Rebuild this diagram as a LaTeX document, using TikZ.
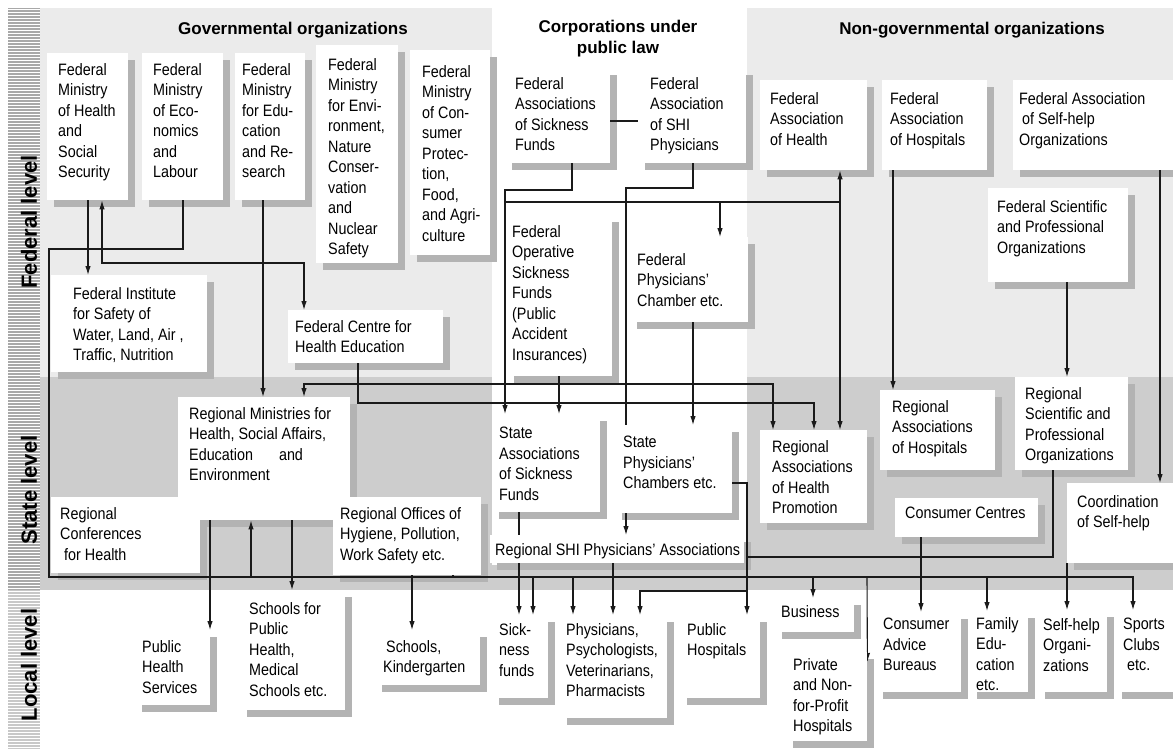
\documentclass[tikz,border=0pt]{standalone}
\usepackage{fontspec}
\setmainfont{Liberation Sans}[FakeStretch=0.87]
\newfontfamily\hdrfont{Liberation Sans}
\usetikzlibrary{arrows.meta}
\pgfdeclarelayer{bg}\pgfdeclarelayer{shadow}\pgfdeclarelayer{lines}
\pgfsetlayers{bg,shadow,lines,main}
\definecolor{shadowgray}{HTML}{B3B3B3}
\definecolor{fedgray}{HTML}{EBEBEB}
\definecolor{stategray}{HTML}{CDCDCD}
\definecolor{stripgray}{HTML}{A8A8A8}
\definecolor{stripgraylow}{HTML}{C8C8C8}
\definecolor{linecol}{HTML}{1A1A1A}
\tikzset{
 boxn/.style={fill=white, inner sep=0pt, anchor=north west, draw=none},
 txt/.style={anchor=north west, inner sep=0pt, align=left, font=\fontsize{16.5}{20.5}\selectfont},
 shd/.style={fill=shadowgray},
 hdr/.style={font=\hdrfont\bfseries\fontsize{17}{21}\selectfont, align=center, inner sep=0pt},
 lvl/.style={font=\hdrfont\bfseries\fontsize{22}{26}\selectfont, rotate=90, inner sep=0pt},
 ln/.style={line width=1.1pt, draw=linecol},
 arr/.style={ln, -{Latex[length=9pt,width=5.5pt]}},
 arr2/.style={ln, {Latex[length=9pt,width=5.5pt]}-{Latex[length=9pt,width=5.5pt]}},
}
% name, x1, y1, x2, y2, text left, text top, text
\newcommand\Bx[8]{%
  \begin{pgfonlayer}{shadow}\fill[shd] (#2+7,#3+7) rectangle (#4+7,#5+7);\end{pgfonlayer}
  \node[boxn, minimum width={#4-#2}, minimum height={#5-#3}] (#1) at (#2,#3) {};
  \node[txt] (#1t) at (#6,#7) {#8};
}
\begin{document}
\begin{tikzpicture}[x=1pt,y=-1pt]
\useasboundingbox (0,0) rectangle (1173,749);
\begin{pgfonlayer}{bg}
\fill[white] (0,0) rectangle (1173,749);
\fill[fedgray] (40,8) rectangle (492,377);
\fill[fedgray] (747,8) rectangle (1173,377);
\fill[stategray] (40,377) rectangle (1173,590);
\fill[white] (492,8) rectangle (747,565);
\fill[stripgray] (8,8) rectangle (40,590);
\fill[stripgraylow] (8,590) rectangle (40,749);
\foreach \i in {0,...,246} {\fill[white] (8,{9+3*\i}) rectangle (40,{10+3*\i});}
\end{pgfonlayer}

% level labels and headers
\node[lvl] (lf) at (29,222) {Federal level};
\node[lvl] (ls) at (29,490) {State level};
\node[lvl] (ll) at (29,665) {Local level};
\node[hdr, anchor=base] (hg) at (293,35) {Governmental organizations};
\node[hdr, anchor=north] (hc) at (618,20) {Corporations under\\public law};
\node[hdr, anchor=base] (hn) at (972,35) {Non-governmental organizations};

% federal level
\Bx{fmh}{47}{53}{128}{200}{58}{63}{Federal\\Ministry\\of Health\\and\\Social\\Security}
\Bx{fme}{142}{53}{223}{200}{153}{63}{Federal\\Ministry\\of Eco-\\nomics\\and\\Labour}
\Bx{fmedu}{235}{53}{305}{200}{242}{63}{Federal\\Ministry\\for Edu-\\cation\\and Re-\\search}
\Bx{fmenv}{316}{45}{398}{263}{328}{58}{Federal\\Ministry\\for Envi-\\ronment,\\Nature\\Conser-\\vation\\and\\Nuclear\\Safety}
\Bx{fmcons}{410}{50}{490}{255}{422}{65}{Federal\\Ministry\\of Con-\\sumer\\Protec-\\tion,\\Food,\\and Agri-\\culture}
\Bx{fas}{505}{68}{610}{163}{515}{77}{Federal\\Associations\\of Sickness\\Funds}
\Bx{fshi}{638}{68}{746}{163}{650}{77}{Federal\\Association\\of SHI\\Physicians}
\Bx{fah}{760}{80}{867}{170}{770}{92}{Federal\\Association\\of Health}
\Bx{fahosp}{882}{80}{987}{170}{890}{92}{Federal\\Association\\of Hospitals}
\Bx{fasel}{1013}{80}{1180}{170}{1019}{92}{Federal Association\\\hspace*{3pt}of Self-help\\Organizations}
\Bx{fsci}{988}{188}{1128}{282}{997}{200}{Federal Scientific\\and Professional\\Organizations}
\Bx{fop}{507}{215}{612}{376}{512}{225}{Federal\\Operative\\Sickness\\Funds\\(Public\\Accident\\Insurances)}
\Bx{fpc}{630}{237}{748}{322}{637}{253}{Federal\\Physicians'\\Chamber etc.}
\Bx{fins}{51}{275}{207}{372}{73}{287}{Federal Institute\\for Safety of\\Water, Land, Air ,\\Traffic, Nutrition}
\Bx{fcen}{288}{310}{443}{363}{295}{320}{Federal Centre for\\Health Education}

% state level
\Bx{rmin}{178}{397}{350}{520}{189}{407}{Regional Ministries for\\Health, Social Affairs,\\Education\hspace*{26pt}and\\Environment}
\Bx{rconf}{51}{497}{200}{573}{60}{507}{Regional\\Conferences\\\hspace*{4pt}for Health}
\Bx{roff}{333}{497}{481}{575}{340}{507}{Regional Offices of\\Hygiene, Pollution,\\Work Safety etc.}
\Bx{sas}{492}{414}{600}{512}{499}{427}{State\\Associations\\of Sickness\\Funds}
\Bx{spc}{615}{425}{732}{513}{623}{436}{State\\Physicians'\\Chambers etc.}
\Bx{rshi}{490}{535}{744}{563}{495}{543}{Regional SHI Physicians' Associations}
\Bx{rahp}{760}{430}{867}{523}{772}{440}{Regional\\Associations\\of Health\\Promotion}
\Bx{rahosp}{880}{390}{995}{470}{892}{400}{Regional\\Associations\\of Hospitals}
\Bx{rsci}{1015}{377}{1128}{470}{1025}{387}{Regional\\Scientific and\\Professional\\Organizations}
\Bx{cc}{895}{498}{1038}{537}{905}{507}{Consumer Centres}
\Bx{coord}{1067}{483}{1180}{563}{1077}{495}{Coordination\\of Self-help}

% local level
\Bx{phs}{135}{630}{210}{705}{142}{640}{Public\\Health\\Services}
\Bx{sph}{240}{590}{345}{710}{249}{602}{Schools for\\Public\\Health,\\Medical\\Schools etc.}
\Bx{skin}{375}{630}{480}{685}{383}{640}{\hspace*{3pt}Schools,\\Kindergarten}
\Bx{sf}{492}{615}{548}{698}{499}{623}{Sick-\\ness\\funds}
\Bx{phy}{560}{615}{667}{718}{566}{623}{Physicians,\\Psychologists,\\Veterinarians,\\Pharmacists}
\Bx{ph}{680}{615}{760}{698}{687}{623}{Public\\Hospitals}
\Bx{bsn}{775}{598}{854}{632}{781}{605}{Business}
\Bx{pnp}{786}{652}{867}{741}{793}{658}{Private\\and Non-\\for-Profit\\Hospitals}
\Bx{cab}{876}{612}{961}{692}{883}{618}{Consumer\\Advice\\Bureaus}
\Bx{fe}{970}{611}{1028}{692}{976}{617}{Family\\Edu-\\cation\\etc.}
\Bx{sho}{1038}{610}{1107}{692}{1043}{618}{Self-help\\Organi-\\zations}
\Bx{sc}{1115}{610}{1180}{692}{1123}{618}{Sports\\Clubs\\\hspace*{4pt}etc.}

% routing coordinates
\foreach \v in {49,88,102,183,210,251,263,292,304,358,412,453,505,519,533,559,572,573,613,626,640,693,720,747,773,813,814,840,867,893,921,987,1053,1067,1133,1160}
  {\coordinate (v\v) at (\v,0);}
\foreach \h in {121,188,190,202,249,263,384,403,483,557,577,591}
  {\coordinate (h\h) at (0,\h);}

\begin{pgfonlayer}{lines}
\draw[arr] (fme.south -| v183) |- (v49 |- h249) -- (v49 |- h577) -- (v1133 |- h577) -- (sc.north -| v1133);
\draw[arr] (fmh.south -| v88) -- (fins.north -| v88);
\draw[arr2] (fmh.south -| v102) |- (v304 |- h263) -- (fcen.north -| v304);
\draw[arr] (fmedu.south -| v263) -- (rmin.north -| v263);
\draw[arr2] (rmin.north -| v304) |- (v773 |- h384) -- (rahp.north -| v773);
\draw[arr] (fcen.south -| v358) |- (v814 |- h403) -- (rahp.north -| v814);
\draw[ln] (fas.east |- h121) -- (fshi.west |- h121);
\draw[arr] (fas.south -| v572) |- (v505 |- h190) -- (sas.north -| v505);
\draw[ln] (v505 |- h202) -- (v840 |- h202);
\draw[arr] (v720 |- h202) -- (fpc.north -| v720);
\draw[arr2] (fah.south -| v840) -- (rahp.north -| v840);
\draw[ln] (fshi.south -| v693) |- (v626 |- h188) -- (spc.north -| v626);
\draw[arr] (fpc.south -| v693) -- (spc.north -| v693);
\draw[arr] (fop.south -| v559) -- (sas.north -| v559);
\draw[arr] (fahosp.south -| v893) -- (rahosp.north -| v893);
\draw[arr] (fsci.south -| v1067) -- (rsci.north -| v1067);
\draw[arr] (fasel.south -| v1160) -- (coord.north -| v1160);
\draw[ln] (rsci.south -| v1053) |- (v747 |- h557);
\draw[arr] (spc.east |- h483) -- (v747 |- h483) -- (ph.north -| v747);
\draw[arr] (v747 |- h591) -| (phy.north -| v640);
\draw[arr] (spc.south -| v626) -- (rshi.north -| v626);
\draw[arr] (sas.south -| v519) -- (sf.north -| v519);
\draw[arr] (v533 |- h577) -- (sf.north -| v533);
\draw[arr] (v573 |- h577) -- (phy.north -| v573);
\draw[arr] (rshi.south -| v613) -- (phy.north -| v613);
\draw[arr] (rmin.south -| v210) -- (phs.north -| v210);
\draw[arr] (v251 |- h577) -- (rmin.south -| v251);
\draw[arr] (rmin.south -| v292) -- (sph.north -| v292);
\draw[arr] (roff.south -| v412) -- (skin.north -| v412);
\draw[ln] (roff.south -| v453) -- (v453 |- h577);
\draw[arr] (v813 |- h577) -- (bsn.north -| v813);
\draw[arr] (v867 |- h577) -- ([yshift=-10pt]pnp.north east);
\draw[arr] (cc.south -| v921) -- (cab.north -| v921);
\draw[arr] (v987 |- h577) -- (fe.north -| v987);
\draw[arr] (coord.south -| v1067) -- (sho.north -| v1067);
\end{pgfonlayer}
\end{tikzpicture}
\end{document}
